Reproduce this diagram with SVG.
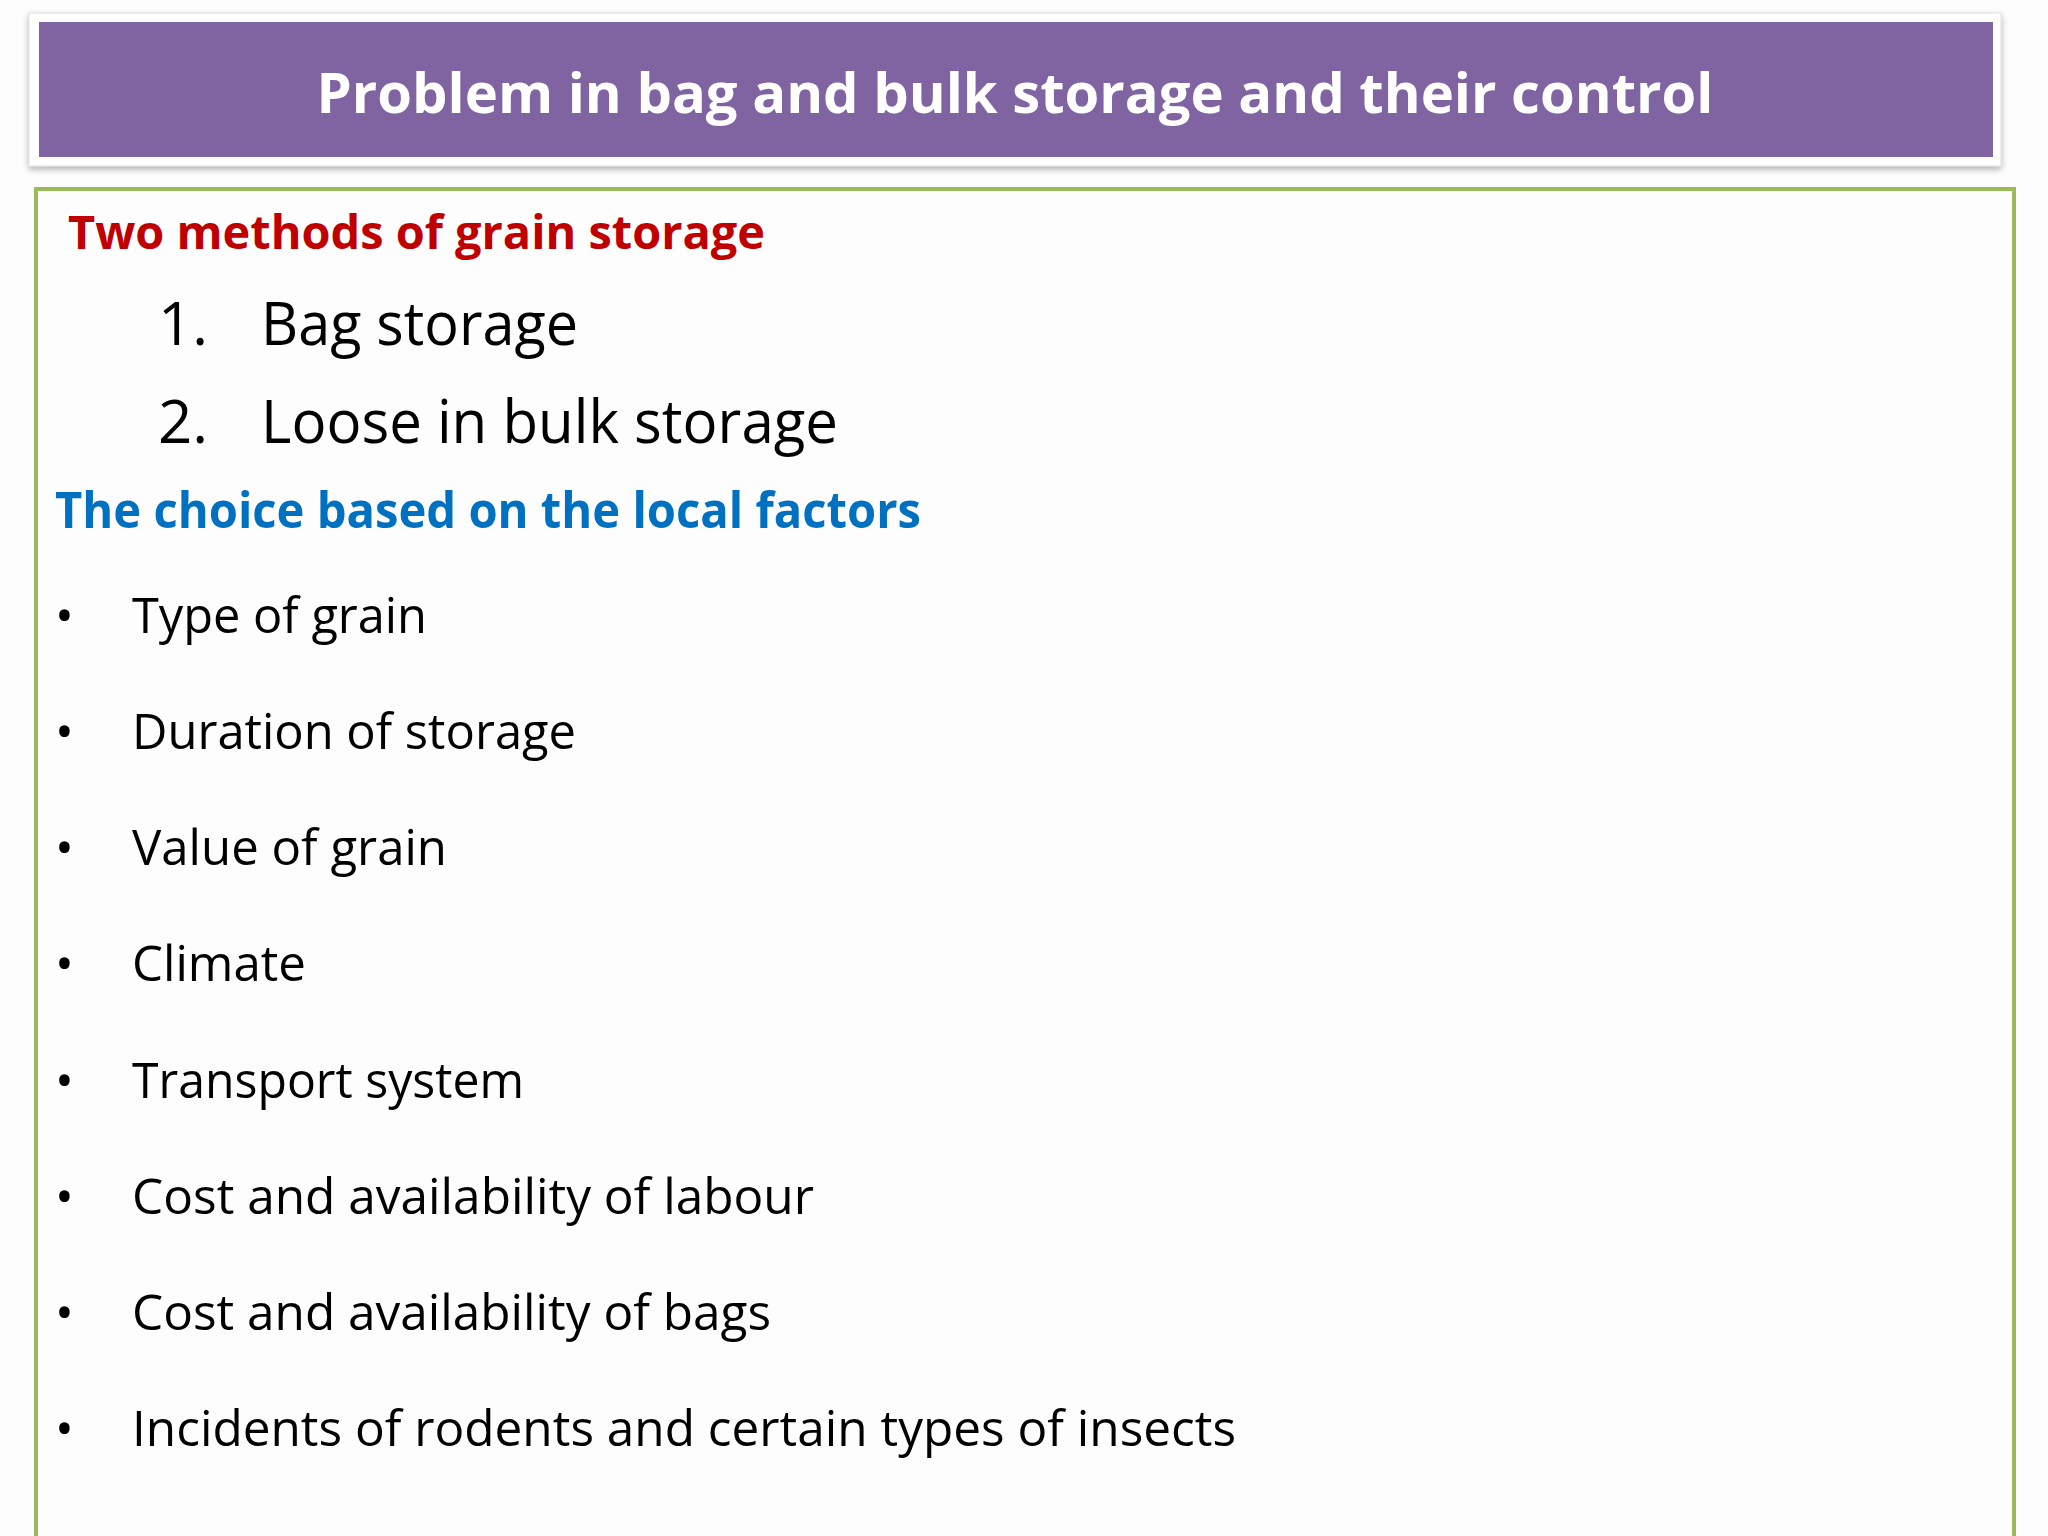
<svg xmlns="http://www.w3.org/2000/svg" width="2048" height="1536" viewBox="0 0 2048 1536">
<style>
.t{font-family:"Open Sans","Liberation Sans",sans-serif;}
.b{font-size:50px;fill:#000;}
.n{font-size:60px;fill:#000;}
</style>
<defs><filter id="sh" x="-5%" y="-20%" width="110%" height="150%"><feDropShadow dx="0" dy="3" stdDeviation="3" flood-color="#000" flood-opacity="0.3"/></filter></defs>
<rect width="2048" height="1536" fill="#fdfdfd"/>
<g id="header">
<rect x="29" y="13" width="1972" height="153" fill="#fff" stroke="#ddd" filter="url(#sh)"/>
<rect x="39" y="22" width="1954" height="135" fill="#8064a2"/>
<text class="t" x="1015" y="113" text-anchor="middle" font-size="56" font-weight="bold" fill="#fff" textLength="1397" lengthAdjust="spacingAndGlyphs">Problem in bag and bulk storage and their control</text>
</g>
<g id="content">
<rect x="36" y="189" width="1978" height="1360" fill="none" stroke="#9bbb59" stroke-width="4"/>
<text class="t" x="68" y="249" font-size="47" font-weight="bold" fill="#c00000" textLength="697" lengthAdjust="spacingAndGlyphs">Two methods of grain storage</text>
<text class="t n" x="158" y="345">1.</text>
<text class="t n" x="261" y="345" textLength="317" lengthAdjust="spacingAndGlyphs">Bag storage</text>
<text class="t n" x="158" y="443">2.</text>
<text class="t n" x="261" y="443" textLength="577" lengthAdjust="spacingAndGlyphs">Loose in bulk storage</text>
<text class="t" x="55" y="528" font-size="50" font-weight="bold" fill="#0070c0" textLength="866" lengthAdjust="spacingAndGlyphs">The choice based on the local factors</text>
<g class="t b">
<text x="55" y="633">•</text><text x="132" y="633" textLength="295" lengthAdjust="spacingAndGlyphs">Type of grain</text>
<text x="55" y="749">•</text><text x="132" y="749" textLength="444" lengthAdjust="spacingAndGlyphs">Duration of storage</text>
<text x="55" y="865">•</text><text x="132" y="865" textLength="315" lengthAdjust="spacingAndGlyphs">Value of grain</text>
<text x="55" y="981">•</text><text x="132" y="981" textLength="174" lengthAdjust="spacingAndGlyphs">Climate</text>
<text x="55" y="1098">•</text><text x="132" y="1098" textLength="392" lengthAdjust="spacingAndGlyphs">Transport system</text>
<text x="55" y="1214">•</text><text x="132" y="1214" textLength="682" lengthAdjust="spacingAndGlyphs">Cost and availability of labour</text>
<text x="55" y="1330">•</text><text x="132" y="1330" textLength="639" lengthAdjust="spacingAndGlyphs">Cost and availability of bags</text>
<text x="55" y="1446">•</text><text x="132" y="1446" textLength="1104" lengthAdjust="spacingAndGlyphs">Incidents of rodents and certain types of insects</text>
</g>
</g>
</svg>
